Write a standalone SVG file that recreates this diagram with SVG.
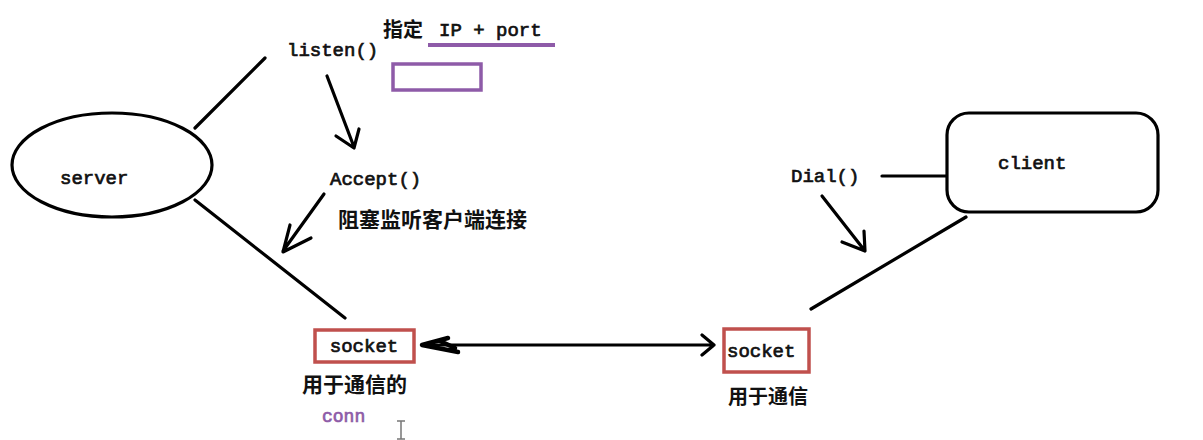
<svg xmlns="http://www.w3.org/2000/svg" width="1203" height="440" viewBox="0 0 1203 440">
<style>
.ln{fill:none;stroke:#000;stroke-width:3.2;stroke-linecap:round;stroke-linejoin:round}
.mono{font-family:"Liberation Mono","Courier New",monospace;font-weight:normal;fill:#111;stroke:#111;stroke-width:0.7}
.cjk{font-family:"Noto Sans CJK SC","Noto Sans",sans-serif;font-weight:bold;fill:#111}
.sock{fill:#fff;stroke:#c0504d;stroke-width:3.5}
.purp{stroke:#8e5ba8;fill:none}
</style>
<rect width="1203" height="440" fill="#fff"/>
<g id="connectors">
  <path class="ln" d="M195,128 L265,58"/>
  <path class="ln" d="M195,200 L345,318"/>
  <path class="ln" d="M327,76 L354,147 M336,136 L354,148 L359,129"/>
  <path class="ln" d="M324,194 L283,251 M290,225 L283,252 L311,238"/>
  <path class="ln" d="M882,176 L950,176"/>
  <path class="ln" d="M822,196 L865,251 M842,242 L865,251 L864,231"/>
  <path class="ln" d="M966,217 L811,309"/>
  <path class="ln" d="M422,345 L714,345 M702,335 L714,345 L702,355"/>
  <path class="ln" style="stroke-width:4.5" d="M448,338 L422,345 L458,352 M440,341 L455,348"/>
</g>
<g id="server">
  <ellipse cx="112" cy="165" rx="100" ry="52" fill="#fff" stroke="#000" stroke-width="3.2"/>
  <text class="mono" x="60" y="184" font-size="19">server</text>
</g>
<g id="listen">
  <text class="mono" x="287" y="56" font-size="19">listen()</text>
</g>
<g id="ipport">
  <text class="cjk" x="383" y="37" font-size="20">指定</text>
  <text class="mono" x="439" y="36" font-size="19">IP + port</text>
  <line class="purp" x1="428" y1="45" x2="555" y2="45" stroke-width="4"/>
  <rect class="purp" x="393" y="64" width="88" height="26" stroke-width="3.5"/>
</g>
<g id="accept">
  <text class="mono" x="330" y="185" font-size="19">Accept()</text>
  <text class="cjk" x="338" y="227" font-size="21">阻塞监听客户端连接</text>
</g>
<g id="socket-server">
  <rect class="sock" x="315" y="330" width="99" height="32"/>
  <text class="mono" x="364" y="352" font-size="19" text-anchor="middle">socket</text>
  <text class="cjk" x="302" y="392" font-size="21">用于通信的</text>
  <text class="mono" x="322" y="422" font-size="18" style="fill:#8e5ba8;stroke:#8e5ba8">conn</text>
</g>
<g id="cursor">
  <path d="M397,421 h8 M401,421 v18 M397,439 h8" stroke="#777" stroke-width="1.5" fill="none"/>
</g>
<g id="client">
  <rect x="947" y="113" width="211" height="99" rx="22" ry="22" fill="#fff" stroke="#000" stroke-width="3.2"/>
  <text class="mono" x="998" y="169" font-size="19">client</text>
</g>
<g id="dial">
  <text class="mono" x="791" y="182" font-size="19">Dial()</text>
</g>
<g id="socket-client">
  <rect class="sock" x="724" y="329" width="85" height="43"/>
  <text class="mono" x="727" y="357" font-size="19">socket</text>
  <text class="cjk" x="728" y="404" font-size="20">用于通信</text>
</g>
</svg>
